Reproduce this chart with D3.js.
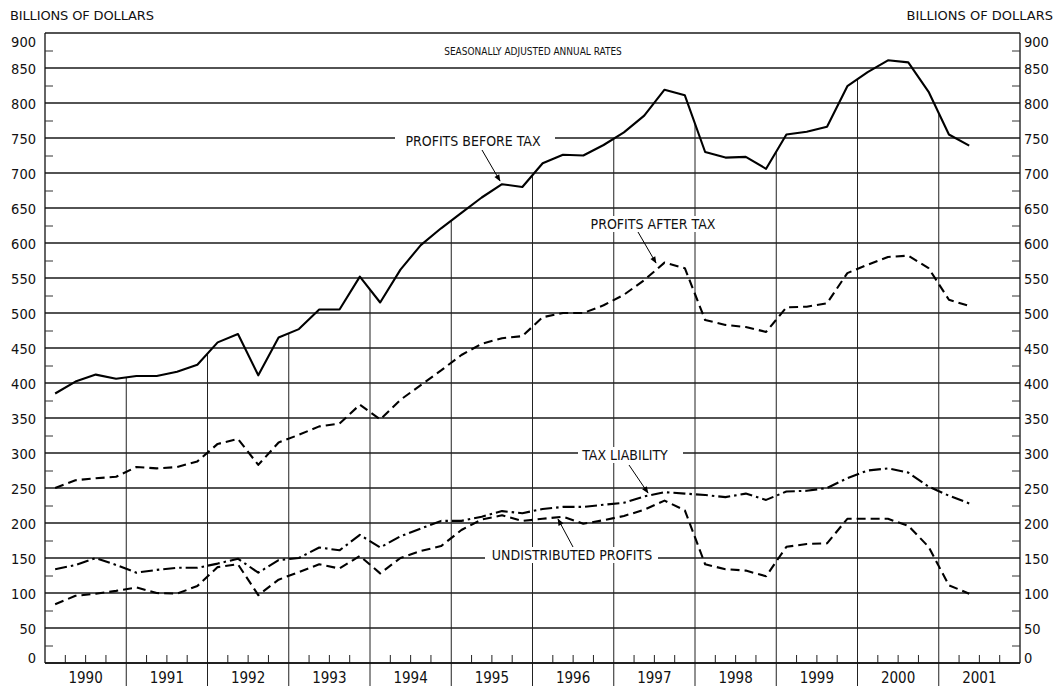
<!DOCTYPE html>
<html>
<head>
<meta charset="utf-8">
<script src="https://cdn.jsdelivr.net/npm/d3@7"></script>
<style>
  body { margin: 0; background: #fff; }
  svg text { font-family: "DejaVu Sans Condensed", "DejaVu Sans", sans-serif; font-stretch: condensed; fill: #111; }
</style>
</head>
<body>
<div id="chart"></div>
<script>
// quarterly values, 1990 Q1 .. 2001 Q2 (billions of dollars, SAAR)
var profitsBeforeTax = [385, 402, 412, 406, 410, 410, 416, 426, 458, 470, 411, 465,
  477, 505, 505, 552, 515, 562, 597, 621, 643, 665, 684, 680,
  714, 726, 725, 740, 758, 782, 819, 811, 730, 722, 723, 706,
  755, 759, 766, 824, 844, 861, 858, 816, 755, 739];
var profitsAfterTax = [250, 261, 264, 266, 280, 278, 280, 288, 313, 320, 283, 315,
  326, 338, 342, 369, 348, 376, 397, 418, 440, 456, 464, 467,
  494, 500, 500, 511, 526, 547, 572, 564, 490, 483, 480, 473,
  508, 509, 514, 557, 569, 580, 582, 564, 519, 510];
var taxLiability = [134, 140, 150, 140, 129, 133, 136, 136, 142, 149, 129, 147,
  150, 165, 161, 183, 165, 181, 192, 203, 203, 209, 217, 214,
  220, 223, 223, 226, 229, 238, 244, 242, 240, 237, 242, 233,
  245, 246, 250, 264, 275, 278, 272, 252, 239, 228];
var undistributedProfits = [84, 96, 99, 103, 108, 100, 99, 110, 137, 141, 97, 119,
  130, 141, 135, 153, 128, 150, 160, 167, 190, 205, 211, 203,
  206, 209, 199, 204, 210, 219, 232, 218, 141, 134, 132, 124,
  166, 170, 171, 206, 206, 206, 196, 166, 111, 99];
var yearLabels = ["1990", "1991", "1992", "1993", "1994", "1995",
  "1996", "1997", "1998", "1999", "2000", "2001"];
var yTicks = [0, 50, 100, 150, 200, 250, 300, 350, 400, 450,
  500, 550, 600, 650, 700, 750, 800, 850, 900];

var width = 1057, height = 688;
var margin = {top: 33, right: 37, bottom: 25, left: 45};
var plotW = width - margin.left - margin.right;
var plotH = height - margin.top - margin.bottom;

var svg = d3.select("#chart").append("svg")
  .attr("width", width)
  .attr("height", height);

var g = svg.append("g")
  .attr("transform", "translate(" + margin.left + "," + margin.top + ")");

var x = d3.scaleLinear().domain([1990, 2002]).range([0, plotW]);
var y = d3.scaleLinear().domain([0, 900]).range([plotH, 0]);

// x position of quarter i (middle of the quarter)
function qx(i) { return x(1990 + (i + 0.5) / 4); }

// horizontal gridlines
g.append("g")
  .selectAll("line")
  .data(yTicks)
  .enter()
  .append("line")
  .attr("x1", 0).attr("x2", plotW)
  .attr("y1", d => y(d)).attr("y2", d => y(d))
  .attr("stroke", "#1a1a1a")
  .attr("stroke-width", 1.3);

// left / right axis frames
g.append("line").attr("x1", 0).attr("x2", 0).attr("y1", 0).attr("y2", plotH)
  .attr("stroke", "#111").attr("stroke-width", 1.3);
g.append("line").attr("x1", plotW).attr("x2", plotW).attr("y1", 0).attr("y2", plotH)
  .attr("stroke", "#111").attr("stroke-width", 1.3);

// minor ticks every 25
var minor = d3.range(25, 900, 50);
var leftAxis = d3.axisLeft(y).tickValues(minor).tickSize(-8).tickFormat("");
var rightAxis = d3.axisRight(y).tickValues(minor).tickSize(-8).tickFormat("");
g.append("g").call(leftAxis).call(s => s.select(".domain").remove())
  .selectAll("line").attr("stroke", "#333");
g.append("g").attr("transform", "translate(" + plotW + ",0)")
  .call(rightAxis).call(s => s.select(".domain").remove())
  .selectAll("line").attr("stroke", "#333");

// tick labels, both sides
function placeLabels(sel) {
  sel.selectAll("text")
    .style("font-size", "14.5px")
    .attr("dy", d => d === 900 ? "0.95em" : (d === 0 ? "-0.05em" : "0.36em"));
}
g.append("g")
  .call(d3.axisLeft(y).tickValues(yTicks).tickSize(0).tickPadding(9))
  .call(s => s.select(".domain").remove())
  .call(placeLabels);
g.append("g").attr("transform", "translate(" + plotW + ",0)")
  .call(d3.axisRight(y).tickValues(yTicks).tickSize(0).tickPadding(4))
  .call(s => s.select(".domain").remove())
  .call(placeLabels);

// quarter ticks along the bottom
var quarterTicks = d3.range(0, 48).filter(k => k % 4 !== 0)
  .map(k => 1990 + k / 4);
g.append("g")
  .selectAll("line")
  .data(quarterTicks)
  .enter()
  .append("line")
  .attr("x1", d => x(d)).attr("x2", d => x(d))
  .attr("y1", plotH).attr("y2", plotH - 8)
  .attr("stroke", "#222");

// year dividers: from the profits-before-tax line down below the axis
var boundaries = d3.range(1991, 2002);
g.append("g")
  .selectAll("line")
  .data(boundaries)
  .enter()
  .append("line")
  .attr("x1", d => x(d)).attr("x2", d => x(d))
  .attr("y1", function(d) {
    var i = (d - 1990) * 4;
    return y((profitsBeforeTax[i - 1] + profitsBeforeTax[i]) / 2);
  })
  .attr("y2", plotH + 23)
  .attr("stroke", "#222")
  .attr("stroke-width", 1);

// bottom axis line
g.append("line").attr("x1", 0).attr("x2", plotW).attr("y1", plotH).attr("y2", plotH)
  .attr("stroke", "#111").attr("stroke-width", 1.4);

// year labels
g.append("g")
  .selectAll("text")
  .data(yearLabels)
  .enter()
  .append("text")
  .attr("x", (d, i) => x(1990 + i + 0.5))
  .attr("y", plotH + 20)
  .attr("text-anchor", "middle")
  .style("font-size", "15px")
  .text(d => d);

// series lines
var line = d3.line()
  .x((d, i) => qx(i))
  .y(d => y(d));

var series = [
  {values: profitsBeforeTax, dash: null},
  {values: profitsAfterTax, dash: "9,5"},
  {values: taxLiability, dash: "12,4,2.5,4"},
  {values: undistributedProfits, dash: "9,5"}
];
series.forEach(function(s) {
  g.append("path")
    .datum(s.values)
    .attr("d", line)
    .attr("fill", "none")
    .attr("stroke", "#000")
    .attr("stroke-width", 2.1)
    .attr("stroke-linejoin", "round")
    .attr("stroke-dasharray", s.dash);
});

// arrow marker
svg.append("defs").append("marker")
  .attr("id", "arrow")
  .attr("viewBox", "0 0 10 10")
  .attr("refX", 9).attr("refY", 5)
  .attr("markerWidth", 9).attr("markerHeight", 7)
  .attr("markerUnits", "userSpaceOnUse")
  .attr("orient", "auto")
  .append("path")
  .attr("d", "M0,1 L10,5 L0,9 Z")
  .attr("fill", "#000");

// series labels (page coordinates) with white backing
var labels = [
  {text: "PROFITS BEFORE TAX", cx: 473, cy: 141, bx0: 395, bx1: 555, ax: [482, 150, 500, 181]},
  {text: "PROFITS AFTER TAX", cx: 653, cy: 224, bx0: 570, bx1: 736, ax: [638, 232, 656, 263]},
  {text: "TAX LIABILITY", cx: 625, cy: 455, bx0: 578, bx1: 683, ax: [629, 465, 648, 493]},
  {text: "UNDISTRIBUTED PROFITS", cx: 572, cy: 555, bx0: 485, bx1: 658, ax: [573, 547, 558, 519]}
];
labels.forEach(function(l) {
  svg.append("rect")
    .attr("x", l.bx0).attr("y", l.cy - 8)
    .attr("width", l.bx1 - l.bx0).attr("height", 16)
    .attr("fill", "#fff");
  svg.append("text")
    .attr("x", l.cx).attr("y", l.cy)
    .attr("dy", "0.36em")
    .attr("text-anchor", "middle")
    .style("font-size", "14px")
    .text(l.text);
  svg.append("line")
    .attr("x1", l.ax[0]).attr("y1", l.ax[1])
    .attr("x2", l.ax[2]).attr("y2", l.ax[3])
    .attr("stroke", "#000").attr("stroke-width", 1)
    .attr("marker-end", "url(#arrow)");
});

// titles
svg.append("text")
  .attr("x", 10).attr("y", 20)
  .style("font-size", "13px")
  .style("font-stretch", "normal")
  .style("font-family", "DejaVu Sans")
  .attr("textLength", 144)
  .text("BILLIONS OF DOLLARS");
svg.append("text")
  .attr("x", 1053).attr("y", 20)
  .attr("text-anchor", "end")
  .style("font-size", "13px")
  .style("font-stretch", "normal")
  .style("font-family", "DejaVu Sans")
  .text("BILLIONS OF DOLLARS");
svg.append("text")
  .attr("x", 533).attr("y", 51)
  .attr("dy", "0.36em")
  .attr("text-anchor", "middle")
  .style("font-size", "10px")
  .text("SEASONALLY ADJUSTED ANNUAL RATES");
</script>
</body>
</html>
